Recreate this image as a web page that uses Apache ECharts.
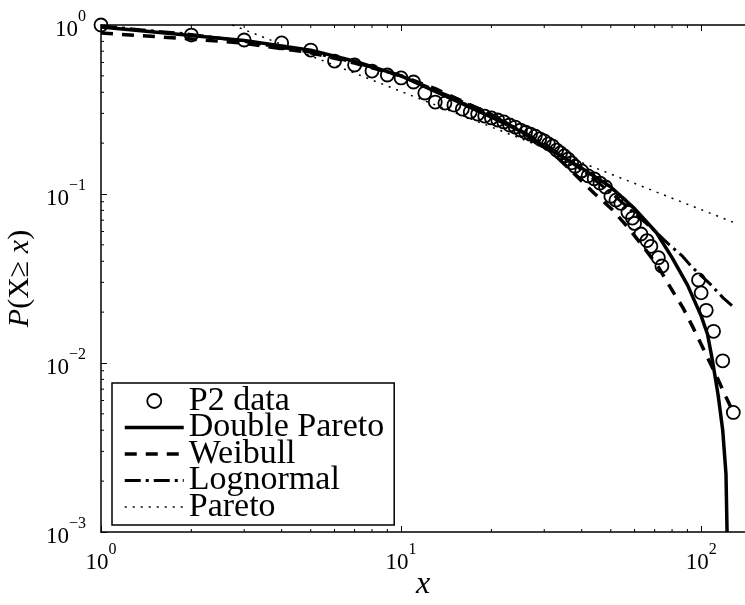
<!DOCTYPE html>
<html>
<head>
<meta charset="UTF-8">
<title>P2 data</title>
<script src="https://cdn.jsdelivr.net/npm/echarts@6/dist/echarts.min.js"></script>
<style>
  html, body { margin: 0; padding: 0; background: #fff; }
  #main { width: 745px; height: 605px; }
</style>
</head>
<body>
<div id="main"></div>
<script>
var dataX = [1, 2, 3, 4, 5, 6, 7, 8, 9, 10, 11, 12, 13, 14, 15, 16, 17, 18, 19, 20,
             21, 22, 23, 24, 25, 26, 27, 28, 29, 30, 31, 32, 33, 34, 35, 36, 37, 38, 40, 42,
             44, 46, 48, 50, 52, 54, 57, 59, 60, 63, 66, 68, 72, 74, 98, 100, 104, 110, 118, 128];
var dataY = [1.0, 0.872, 0.815, 0.783, 0.711, 0.612, 0.58, 0.534, 0.506, 0.486, 0.46, 0.396, 0.35, 0.345, 0.336, 0.318, 0.306, 0.297, 0.289, 0.282,
             0.274, 0.267, 0.256, 0.249, 0.239, 0.232, 0.226, 0.22, 0.212, 0.206, 0.198, 0.192, 0.182, 0.175, 0.168, 0.161, 0.153, 0.146, 0.137, 0.128,
             0.123, 0.116, 0.11, 0.097, 0.092, 0.088, 0.078, 0.072, 0.067, 0.058, 0.053, 0.049, 0.042, 0.0375, 0.031, 0.026, 0.0205, 0.0154, 0.0103, 0.0051];

// fitted curves
var dparetoX = [1, 2, 3, 5, 7, 10, 15, 20, 25, 31, 40, 50, 60, 71, 80, 90, 100, 105, 109, 114, 118, 121, 122];
var dparetoY = [0.973, 0.868, 0.81, 0.71, 0.61, 0.50, 0.36, 0.285, 0.235, 0.185, 0.142, 0.110, 0.082, 0.059, 0.042, 0.029, 0.019, 0.0148, 0.0104, 0.0064, 0.0040, 0.0022, 0.001];

var weibullX = [1, 2, 3, 5, 7, 10, 13, 20, 30, 44, 50.5, 57.4, 64.6, 72, 79, 87, 94, 102, 112, 121, 128];
var weibullY = [0.897, 0.826, 0.78, 0.685, 0.595, 0.50, 0.42, 0.295, 0.196, 0.101, 0.081, 0.0625, 0.048, 0.037, 0.028, 0.0212, 0.0162, 0.012, 0.0085, 0.0063, 0.0051];

var lognormX = [1, 2, 3, 5, 7, 10, 15, 20, 30, 40, 50, 60, 69, 78.5, 86.5, 93, 107, 118.6, 128];
var lognormY = [0.985, 0.88, 0.80, 0.69, 0.60, 0.50, 0.37, 0.295, 0.199, 0.139, 0.102, 0.077, 0.062, 0.0499, 0.043, 0.0371, 0.0294, 0.0242, 0.0215];

var paretoX = [2.74, 128];
var paretoY = [1.0, 0.068];

// minor tick positions
var xMinorTicks = [2, 3, 4, 5, 6, 7, 8, 9, 20, 30, 40, 50, 60, 70, 80, 90];
var yMinorTicks = [0.002, 0.003, 0.004, 0.005, 0.006, 0.007, 0.008, 0.009,
                   0.02, 0.03, 0.04, 0.05, 0.06, 0.07, 0.08, 0.09,
                   0.2, 0.3, 0.4, 0.5, 0.6, 0.7, 0.8, 0.9];

var SERIF = "'Liberation Serif', 'DejaVu Serif', serif";
var X_MIN = 1, X_MAX = 140, Y_MIN = 0.001, Y_MAX = 1;

function pairs(xs, ys) {
    return xs.map(function (x, i) { return [x, ys[i]]; });
}

function powLabel(v) {
    var e = Math.round(Math.log10(v));
    return '{b|10}{s|' + (e < 0 ? '\u2212' + (-e) : e) + '}';
}

var labelRich = {
    b: { fontFamily: SERIF, fontSize: 23, color: '#000', lineHeight: 32, verticalAlign: 'bottom' },
    s: { fontFamily: SERIF, fontSize: 16, color: '#000', lineHeight: 32, verticalAlign: 'top' }
};

var tickStyle = { inside: true, length: 6, lineStyle: { color: '#000', width: 1 } };
var axisLineStyle = { show: true, lineStyle: { color: '#000', width: 1.5 } };
var hideSymbol = { opacity: 0 };

var myChart = echarts.init(document.getElementById('main'));

var option = {
    animation: false,
    backgroundColor: '#fff',
    grid: { left: 101, right: 0, top: 25, bottom: 73, outerBoundsMode: 'none' },
    legend: {
        orient: 'vertical',
        left: 112, top: 383,
        itemWidth: 59, itemHeight: 14, itemGap: -7.5,
        padding: [1, 10, 1, 11],
        borderColor: '#000', borderWidth: 1.5, borderRadius: 0,
        backgroundColor: '#fff',
        textStyle: { fontFamily: SERIF, fontSize: 34, color: '#000' },
        data: [
            { name: 'P2 data', itemStyle: { color: 'rgba(0,0,0,0)', borderColor: '#000', borderWidth: 1.8, opacity: 1 } },
            { name: 'Double Pareto', itemStyle: hideSymbol, lineStyle: { width: 3.5 } },
            { name: 'Weibull', itemStyle: hideSymbol, lineStyle: { width: 3.5 } },
            { name: 'Lognormal', itemStyle: hideSymbol, lineStyle: { width: 3 } },
            { name: 'Pareto', itemStyle: hideSymbol, lineStyle: { width: 1.5 } }
        ]
    },
    xAxis: [{
        type: 'log', logBase: 10, min: X_MIN, max: X_MAX, position: 'bottom',
        axisLine: axisLineStyle, axisTick: tickStyle, splitLine: { show: false },
        axisLabel: { formatter: powLabel, rich: labelRich, margin: 10, showMaxLabel: false },
        name: 'x', nameLocation: 'middle', nameGap: 37, nameMoveOverlap: false,
        nameTextStyle: { fontFamily: SERIF, fontSize: 32, fontStyle: 'italic', color: '#000' }
    }, {
        type: 'log', logBase: 10, min: X_MIN, max: X_MAX, position: 'top',
        axisLine: axisLineStyle, axisTick: tickStyle, splitLine: { show: false },
        axisLabel: { show: false }
    }],
    yAxis: {
        type: 'log', logBase: 10, min: Y_MIN, max: Y_MAX,
        axisLine: axisLineStyle, axisTick: tickStyle, splitLine: { show: false },
        axisLabel: { formatter: powLabel, rich: labelRich, margin: 15 },
        name: '{i|P}(X\u2265 {i|x})', nameLocation: 'middle', nameGap: 62, nameRotate: 90,
        nameTextStyle: {
            fontFamily: SERIF, fontSize: 30, color: '#000',
            rich: { i: { fontFamily: SERIF, fontSize: 30, fontStyle: 'italic', color: '#000' } }
        }
    },
    series: [{
        name: 'P2 data', type: 'scatter',
        symbol: 'circle', symbolSize: 13,
        itemStyle: { color: 'rgba(0,0,0,0)', borderColor: '#000', borderWidth: 1.8, opacity: 1 },
        data: pairs(dataX, dataY)
    }, {
        name: 'Double Pareto', type: 'line', symbol: 'none',
        lineStyle: { color: '#000', width: 3.5 },
        itemStyle: { color: '#000' },
        data: pairs(dparetoX, dparetoY)
    }, {
        name: 'Weibull', type: 'line', symbol: 'none',
        lineStyle: { color: '#000', width: 3.5, type: [12, 9] },
        itemStyle: { color: '#000' },
        data: pairs(weibullX, weibullY)
    }, {
        name: 'Lognormal', type: 'line', symbol: 'none',
        lineStyle: { color: '#000', width: 3, type: [16, 5, 3, 5] },
        itemStyle: { color: '#000' },
        data: pairs(lognormX, lognormY)
    }, {
        name: 'Pareto', type: 'line', symbol: 'none',
        lineStyle: { color: '#000', width: 1.5, type: [2, 6] },
        itemStyle: { color: '#000' },
        data: pairs(paretoX, paretoY)
    }, {
        // minor ticks on the bottom and top x axes
        type: 'custom', silent: true, z: 5,
        data: xMinorTicks.map(function (v) { return [v, Y_MIN]; }),
        renderItem: function (params, api) {
            var b = api.coord([api.value(0), Y_MIN]);
            var t = api.coord([api.value(0), Y_MAX]);
            var st = { stroke: '#000', lineWidth: 1 };
            return { type: 'group', children: [
                { type: 'line', shape: { x1: b[0], y1: b[1], x2: b[0], y2: b[1] - 3 }, style: st },
                { type: 'line', shape: { x1: t[0], y1: t[1], x2: t[0], y2: t[1] + 3 }, style: st }
            ] };
        }
    }, {
        // minor ticks on the left y axis
        type: 'custom', silent: true, z: 5,
        data: yMinorTicks.map(function (v) { return [X_MIN, v]; }),
        renderItem: function (params, api) {
            var p = api.coord([X_MIN, api.value(1)]);
            return { type: 'line', shape: { x1: p[0], y1: p[1], x2: p[0] + 3, y2: p[1] },
                     style: { stroke: '#000', lineWidth: 1 } };
        }
    }]
};

myChart.setOption(option);
</script>
</body>
</html>
